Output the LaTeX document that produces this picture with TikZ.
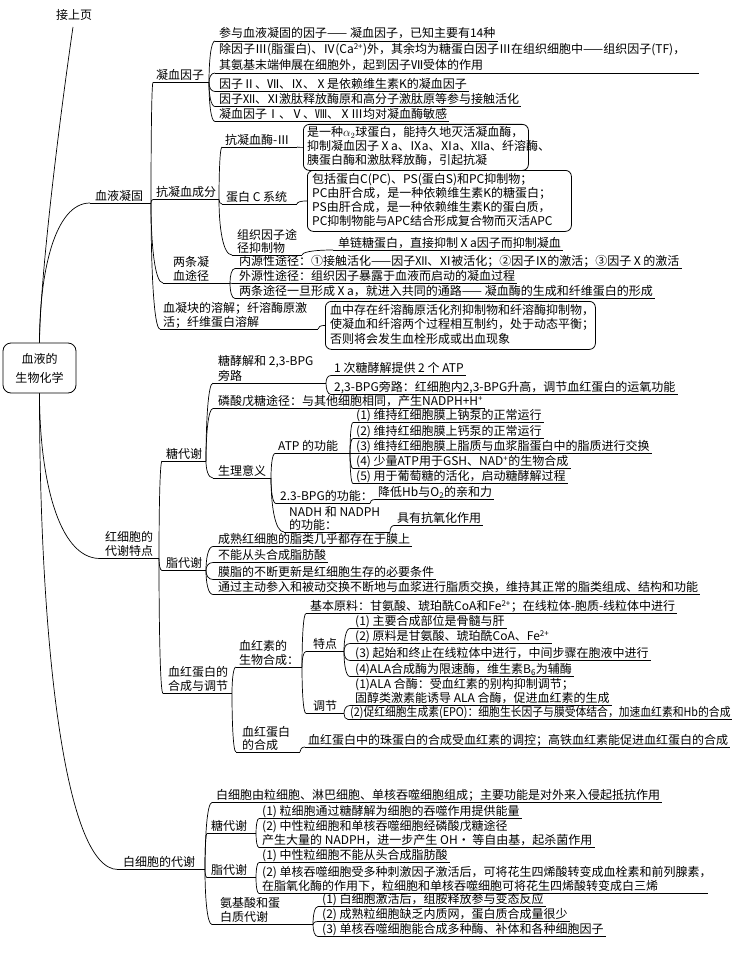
\documentclass[tikz,border=0pt]{standalone}
\usepackage{fontspec}
\setmainfont{Noto Sans CJK SC}
\usepackage{graphicx}
\usetikzlibrary{calc}
\tikzset{
  tx/.style={font=\fontsize{12}{14}\selectfont, inner sep=0pt, anchor=base west},
  ln/.style={line width=0.7pt, black},
  bx/.style={draw, line width=0.8pt, rounded corners=6pt, inner sep=0pt, anchor=north west},
  rootbox/.style={draw, line width=0.8pt, rounded corners=8pt, minimum width=73pt, minimum height=50pt, align=center, inner sep=0pt, font=\fontsize{12}{19}\selectfont},
}
\newcommand\mmlk[2]{\draw[ln] (#1) .. controls ($(#1)!0.5!(#1|-#2)$) and ($(#2)!0.7!(#1|-#2)$) .. (#2);}
\newcommand\mmul[2]{\draw[ln] (#1) -- ($(#1 -| #2.east)+(2,0)$);}
\newcommand\mmsx[2]{\scalebox{#1}[1]{#2}}
\begin{document}
\begin{tikzpicture}[x=1pt,y=-1pt]
\useasboundingbox (0,0) rectangle (731,955);

% ---------- root ----------
\node[rootbox] (root) at (39.5,368) {血液的\\生物化学};
\node[tx] (jsy) at (56,19.5) {接上页};
\coordinate (jsyb) at (73,27);
\draw[ln] (jsyb) .. controls (58,130) and (40,280) .. (root.north);

% ---------- 血液凝固 ----------
\coordinate (xyL) at (90,203); \coordinate (xyR) at (151,203);
\node[tx] (xy) at (95,200) {血液凝固};
\draw[ln] (xyL) -- (xyR);
\mmlk{root.north}{xyL}

% 凝血因子
\coordinate (nxL) at (153,82.5); \coordinate (nxR) at (209,82.5);
\node[tx] (nx) at (156,79.5) {凝血因子};
\draw[ln] (nxL) -- (nxR);
\mmlk{xyR}{nxL}

\coordinate (a1L) at (215,41);
\node[tx] (a1) at (219,38) {参与血液凝固的因子—— 凝血因子，已知主要有14种};
\mmul{a1L}{a1}
\coordinate (a2L) at (215,73);
\node[tx] (a2a) at (219,54) {除因子Ⅲ(脂蛋白)、Ⅳ(Ca\textsuperscript{2+})外，其余均为糖蛋白因子Ⅲ在组织细胞中——组织因子(TF)，};
\node[tx] (a2b) at (219,69.5) {其氨基末端伸展在细胞外，起到因子Ⅶ受体的作用};
\draw[ln] (a2L) -- ($(a2L -| a2a.east)+(14,0)$);
\coordinate (a3L) at (215,91.5);
\node[tx] (a3) at (219,88.5) {因子Ⅱ、Ⅶ、Ⅸ、Ⅹ是依赖维生素K的凝血因子};
\mmul{a3L}{a3}
\coordinate (a4L) at (215,106.5);
\node[tx] (a4) at (219,103.5) {因子Ⅻ、Ⅺ激肽释放酶原和高分子激肽原等参与接触活化};
\mmul{a4L}{a4}
\coordinate (a5L) at (215,121.5);
\node[tx] (a5) at (219,118.5) {凝血因子Ⅰ、Ⅴ、Ⅷ、ⅩⅢ均对凝血酶敏感};
\mmul{a5L}{a5}
\foreach \c in {a1L,a2L,a3L,a4L,a5L} {\mmlk{nxR}{\c}}

% 抗凝血成分
\coordinate (kxL) at (153,199.5); \coordinate (kxR) at (219,199.5);
\node[tx] (kx) at (156,196.5) {抗凝血成分};
\draw[ln] (kxL) -- (kxR);
\mmlk{xyR}{kxL}

\coordinate (kmL) at (222,147); \coordinate (kmR) at (297,147);
\node[tx] (km) at (225,144) {抗凝血酶-Ⅲ};
\draw[ln] (kmL) -- (kmR);
\node[bx, minimum width=225pt, minimum height=46pt] (box1) at (303,124) {};
\node[tx] (b1a) at (307,136.5) {是一种$\alpha_2$球蛋白，能持久地灭活凝血酶，};
\node[tx] (b1b) at (307,150.5) {抑制凝血因子Ⅹa、Ⅸa、Ⅺa、Ⅻa、纤溶酶、};
\node[tx] (b1c) at (307,164.5) {胰蛋白酶和激肽释放酶，引起抗凝};
\mmlk{kmR}{box1.west}
\mmlk{kxR}{kmL}

\coordinate (dbL) at (222,204); \coordinate (dbR) at (297,204);
\node[tx] (db) at (226,201) {蛋白 C 系统};
\draw[ln] (dbL) -- (dbR);
\node[bx, minimum width=264pt, minimum height=61pt] (box2) at (307,170) {};
\node[tx] (b2a) at (312,183) {包括蛋白C(PC)、PS(蛋白S)和PC抑制物；};
\node[tx] (b2b) at (312,197) {PC由肝合成，是一种依赖维生素K的糖蛋白；};
\node[tx] (b2c) at (312,211) {PS由肝合成，是一种依赖维生素K的蛋白质，};
\node[tx] (b2d) at (312,225) {PC抑制物能与APC结合形成复合物而灭活APC};
\mmlk{dbR}{box2.west}
\mmlk{kxR}{dbL}

\coordinate (tfL) at (232,255); \coordinate (tfR) at (302,255);
\node[tx] (tfa) at (237,239.5) {组织因子途};
\node[tx] (tfb) at (237,252) {径抑制物};
\draw[ln] (tfL) -- (tfR);
\mmlk{kxR}{tfL}
\coordinate (dlL) at (333,250);
\node[tx] (dl) at (338,247) {单链糖蛋白，直接抑制Ⅹa因子而抑制凝血};
\mmul{dlL}{dl}
\mmlk{tfR}{dlL}

% 两条凝血途径
\coordinate (ltL) at (163,283); \coordinate (ltR) at (230,283);
\node[tx] (lta) at (173,266.5) {两条凝};
\node[tx] (ltb) at (173,280) {血途径};
\draw[ln] (ltL) -- (ltR);
\mmlk{xyR}{ltL}
\coordinate (l1L) at (235,268.5);
\node[tx] (l1) at (239,265.5) {内源性途径：①接触活化——因子Ⅻ、Ⅺ被活化；②因子Ⅸ的激活；③因子Ⅹ的激活};
\mmul{l1L}{l1}
\coordinate (l2L) at (235,283.5);
\node[tx] (l2) at (239,280.5) {外源性途径：组织因子暴露于血液而启动的凝血过程};
\mmul{l2L}{l2}
\coordinate (l3L) at (235,298.5);
\node[tx] (l3) at (239,295.5) {两条途径一旦形成Ⅹa，就进入共同的通路—— 凝血酶的生成和纤维蛋白的形成};
\mmul{l3L}{l3}
\foreach \c in {l1L,l2L,l3L} {\mmlk{ltR}{\c}}

% 血凝块的溶解
\coordinate (xnL) at (160,329); \coordinate (xnR) at (318,329);
\node[tx] (xna) at (163,312.5) {血凝块的溶解；纤溶酶原激};
\node[tx] (xnb) at (163,326) {活；纤维蛋白溶解};
\draw[ln] (xnL) -- (xnR);
\mmlk{xyR}{xnL}
\node[bx, minimum width=270pt, minimum height=48pt] (box3) at (325,301) {};
\node[tx] (b3a) at (330,314) {血中存在纤溶酶原活化剂抑制物和纤溶酶抑制物，};
\node[tx] (b3b) at (330,328.5) {使凝血和纤溶两个过程相互制约，处于动态平衡；};
\node[tx] (b3c) at (330,343) {否则将会发生血栓形成或出血现象};
\mmlk{xnR}{box3.west}

% ---------- 红细胞的代谢特点 ----------
\coordinate (hxL) at (100,558.5); \coordinate (hxR) at (159,558.5);
\node[tx] (hxa) at (105,541.5) {红细胞的};
\node[tx] (hxb) at (105,555.5) {代谢特点};
\draw[ln] (hxL) -- (hxR);
\mmlk{root.south}{hxL}

% 糖代谢
\coordinate (tdL) at (162,461); \coordinate (tdR) at (206,461);
\node[tx] (td) at (166,458) {糖代谢};
\draw[ln] (tdL) -- (tdR);
\mmlk{hxR}{tdL}

\coordinate (tjL) at (213,383); \coordinate (tjR) at (326,383);
\node[tx] (tja) at (218,365.5) {糖酵解和 2,3-BPG};
\node[tx] (tjb) at (218,380) {旁路};
\draw[ln] (tjL) -- (tjR);
\coordinate (t1L) at (331,375.5);
\node[tx] (t1) at (334,372.5) {1 次糖酵解提供 2 个 ATP};
\mmul{t1L}{t1}
\coordinate (t2L) at (331,394.5);
\node[tx] (t2) at (334,391.5) {2,3-BPG旁路：红细胞内2,3-BPG升高，调节血红蛋白的运氧功能};
\mmul{t2L}{t2}
\mmlk{tjR}{t1L}
\mmlk{tjR}{t2L}

\coordinate (lsL) at (213,408.5);
\node[tx] (ls) at (218,405.5) {磷酸戊糖途径：与其他细胞相同，产生NADPH+H\textsuperscript{+}};
\mmul{lsL}{ls}

\coordinate (slL) at (213,478); \coordinate (slR) at (271,478);
\node[tx] (sl) at (218,475) {生理意义};
\draw[ln] (slL) -- (slR);
\foreach \c in {tjL,lsL,slL} {\mmlk{tdR}{\c}}

\coordinate (atL) at (275,453.5); \coordinate (atR) at (350,453.5);
\node[tx] (at) at (278,450.5) {ATP 的功能};
\draw[ln] (atL) -- (atR);
\coordinate (p1L) at (353,422.5);
\node[tx] (p1) at (356,419.5) {(1) 维持红细胞膜上钠泵的正常运行};
\coordinate (p2L) at (353,438.5);
\node[tx] (p2) at (356,435.5) {(2) 维持红细胞膜上钙泵的正常运行};
\coordinate (p3L) at (353,453.5);
\node[tx] (p3) at (356,450.5) {(3) 维持红细胞膜上脂质与血浆脂蛋白中的脂质进行交换};
\coordinate (p4L) at (353,468.5);
\node[tx] (p4) at (356,465.5) {(4) 少量ATP用于GSH、NAD\textsuperscript{+}的生物合成};
\coordinate (p5L) at (353,483.5);
\node[tx] (p5) at (356,480.5) {(5) 用于葡萄糖的活化，启动糖酵解过程};
\foreach \c in {p1,p2,p3,p4,p5} {\mmul{\c L}{\c}\mmlk{atR}{\c L}}

\coordinate (bpL) at (276,503.5); \coordinate (bpR) at (370,503.5);
\node[tx] (bp) at (280,500.5) {2.3-BPG的功能：};
\draw[ln] (bpL) -- (bpR);
\coordinate (jdL) at (375,499.5);
\node[tx] (jd) at (378,496.5) {降低Hb与O\textsubscript{2}的亲和力};
\mmul{jdL}{jd}
\mmlk{bpR}{jdL}

\coordinate (ndL) at (284,532); \coordinate (ndR) at (390,532);
\node[tx] (nda) at (289,516.5) {NADH 和 NADPH};
\node[tx] (ndb) at (289,529) {的功能：};
\draw[ln] (ndL) -- (ndR);
\coordinate (kyL) at (394,525.5);
\node[tx] (ky) at (397,522.5) {具有抗氧化作用};
\mmul{kyL}{ky}
\mmlk{ndR}{kyL}
\foreach \c in {atL,bpL,ndL} {\mmlk{slR}{\c}}

% 脂代谢
\coordinate (zdL) at (162,570.5); \coordinate (zdR) at (206,570.5);
\node[tx] (zd) at (166,567.5) {脂代谢};
\draw[ln] (zdL) -- (zdR);
\mmlk{hxR}{zdL}
\coordinate (z1L) at (213,546.5);
\node[tx] (z1) at (218,543.5) {成熟红细胞的脂类几乎都存在于膜上};
\coordinate (z2L) at (213,562.5);
\node[tx] (z2) at (218,559.5) {不能从头合成脂肪酸};
\coordinate (z3L) at (213,579.5);
\node[tx] (z3) at (218,576.5) {膜脂的不断更新是红细胞生存的必要条件};
\coordinate (z4L) at (213,594.5);
\node[tx] (z4) at (218,591.5) {通过主动参入和被动交换不断地与血浆进行脂质交换，维持其正常的脂类组成、结构和功能};
\foreach \c in {z1,z2,z3,z4} {\mmul{\c L}{\c}\mmlk{zdR}{\c L}}

% 血红蛋白的合成与调节
\coordinate (hdL) at (163,693.5); \coordinate (hdR) at (232,693.5);
\node[tx] (hda) at (168,676.5) {血红蛋白的};
\node[tx] (hdb) at (168,690.5) {合成与调节};
\draw[ln] (hdL) -- (hdR);
\mmlk{hxR}{hdL}

\coordinate (hsL) at (236,667); \coordinate (hsR) at (302,667);
\node[tx] (hsa) at (239,650.5) {血红素的};
\node[tx] (hsb) at (239,664) {生物合成：};
\draw[ln] (hsL) -- (hsR);
\mmlk{hdR}{hsL}

\coordinate (jbL) at (306,613.5);
\node[tx] (jb) at (310,610.5) {基本原料：甘氨酸、琥珀酰CoA和Fe\textsuperscript{2+}；在线粒体-胞质-线粒体中进行};
\mmul{jbL}{jb}

\coordinate (tdpL) at (306,651.5); \coordinate (tdpR) at (344,651.5);
\node[tx] (tdp) at (313,648.5) {特点};
\draw[ln] (tdpL) -- (tdpR);
\coordinate (q1L) at (350,628.5);
\node[tx] (q1) at (355,625.5) {(1) 主要合成部位是骨髓与肝};
\coordinate (q2L) at (350,643.5);
\node[tx] (q2) at (355,640.5) {(2) 原料是甘氨酸、琥珀酰CoA、Fe\textsuperscript{2+}};
\coordinate (q3L) at (350,660.5);
\node[tx] (q3) at (355,657.5) {(3) 起始和终止在线粒体中进行，中间步骤在胞液中进行};
\coordinate (q4L) at (350,676.5);
\node[tx] (q4) at (355,673.5) {(4)ALA合成酶为限速酶，维生素B\textsubscript{6}为辅酶};
\foreach \c in {q1,q2,q3,q4} {\mmul{\c L}{\c}\mmlk{tdpR}{\c L}}

\coordinate (tjjL) at (306,713.5); \coordinate (tjjR) at (344,713.5);
\node[tx] (tjj) at (313,710.5) {调节};
\draw[ln] (tjjL) -- (tjjR);
\coordinate (r1L) at (350,705.5);
\node[tx] (r1a) at (355,688.5) {(1)ALA 合酶：受血红素的别构抑制调节；};
\node[tx] (r1b) at (355,702.5) {固醇类激素能诱导 ALA 合酶，促进血红素的生成};
\mmul{r1L}{r1b}
\coordinate (r2L) at (348,719.5);
\node[tx] (r2) at (350,716.5) {\mmsx{0.9}{(2)促红细胞生成素(EPO)：细胞生长因子与膜受体结合，加速血红素和Hb的合成}};
\mmul{r2L}{r2}
\mmlk{tjjR}{r1L}
\mmlk{tjjR}{r2L}
\foreach \c in {jbL,tdpL,tjjL} {\mmlk{hsR}{\c}}

\coordinate (hbL) at (236,752); \coordinate (hbR) at (300,752);
\node[tx] (hba) at (242,736.5) {血红蛋白};
\node[tx] (hbb) at (242,749) {的合成};
\draw[ln] (hbL) -- (hbR);
\mmlk{hdR}{hbL}
\coordinate (zbL) at (305,747);
\node[tx] (zb) at (308,744) {血红蛋白中的珠蛋白的合成受血红素的调控；高铁血红素能促进血红蛋白的合成};
\mmul{zbL}{zb}
\mmlk{hbR}{zbL}

% ---------- 白细胞的代谢 ----------
\coordinate (bxL) at (118,869.5); \coordinate (bxR) at (205,869.5);
\node[tx] (bx) at (123,866.5) {白细胞的代谢};
\draw[ln] (bxL) -- (bxR);
\mmlk{root.south}{bxL}

\coordinate (w0L) at (212,802.5);
\node[tx] (w0) at (216,799.5) {白细胞由粒细胞、淋巴细胞、单核吞噬细胞组成；主要功能是对外来入侵起抵抗作用};
\mmul{w0L}{w0}

\coordinate (wtL) at (207,833.5); \coordinate (wtR) at (256,833.5);
\node[tx] (wt) at (211,830.5) {糖代谢};
\draw[ln] (wtL) -- (wtR);
\coordinate (wt1L) at (259,818.5);
\node[tx] (wt1) at (262,815.5) {(1) 粒细胞通过糖酵解为细胞的吞噬作用提供能量};
\mmul{wt1L}{wt1}
\coordinate (wt2L) at (259,847.5);
\node[tx] (wt2a) at (262,830.5) {(2) 中性粒细胞和单核吞噬细胞经磷酸戊糖途径};
\node[tx] (wt2b) at (262,844.5) {产生大量的 NADPH，进一步产生 OH· 等自由基，起杀菌作用};
\mmul{wt2L}{wt2b}
\mmlk{wtR}{wt1L}
\mmlk{wtR}{wt2L}

\coordinate (wzL) at (207,877.5); \coordinate (wzR) at (256,877.5);
\node[tx] (wz) at (211,874.5) {脂代谢};
\draw[ln] (wzL) -- (wzR);
\coordinate (wz1L) at (259,862.5);
\node[tx] (wz1) at (262,859.5) {(1) 中性粒细胞不能从头合成脂肪酸};
\mmul{wz1L}{wz1}
\coordinate (wz2L) at (259,893.5);
\node[tx] (wz2a) at (262,876.5) {(2) 单核吞噬细胞受多种刺激因子激活后，可将花生四烯酸转变成血栓素和前列腺素，};
\node[tx] (wz2b) at (262,890.5) {在脂氧化酶的作用下，粒细胞和单核吞噬细胞可将花生四烯酸转变成白三烯};
\draw[ln] (wz2L) -- ($(wz2L -| wz2a.east)+(-4,0)$);
\mmlk{wzR}{wz1L}
\mmlk{wzR}{wz2L}

\coordinate (waL) at (212,924.5); \coordinate (waR) at (313,924.5);
\node[tx] (waa) at (220,907.5) {氨基酸和蛋};
\node[tx] (wab) at (220,921.5) {白质代谢};
\draw[ln] (waL) -- (waR);
\coordinate (wa1L) at (318,906.5);
\node[tx] (wa1) at (322,903.5) {(1) 白细胞激活后，组胺释放参与变态反应};
\coordinate (wa2L) at (318,921.5);
\node[tx] (wa2) at (322,918.5) {(2) 成熟粒细胞缺乏内质网，蛋白质合成量很少};
\coordinate (wa3L) at (318,936.5);
\node[tx] (wa3) at (322,933.5) {(3) 单核吞噬细胞能合成多种酶、补体和各种细胞因子};
\foreach \c in {wa1,wa2,wa3} {\mmul{\c L}{\c}\mmlk{waR}{\c L}}
\foreach \c in {w0L,wtL,wzL,waL} {\mmlk{bxR}{\c}}
\end{tikzpicture}
\end{document}
